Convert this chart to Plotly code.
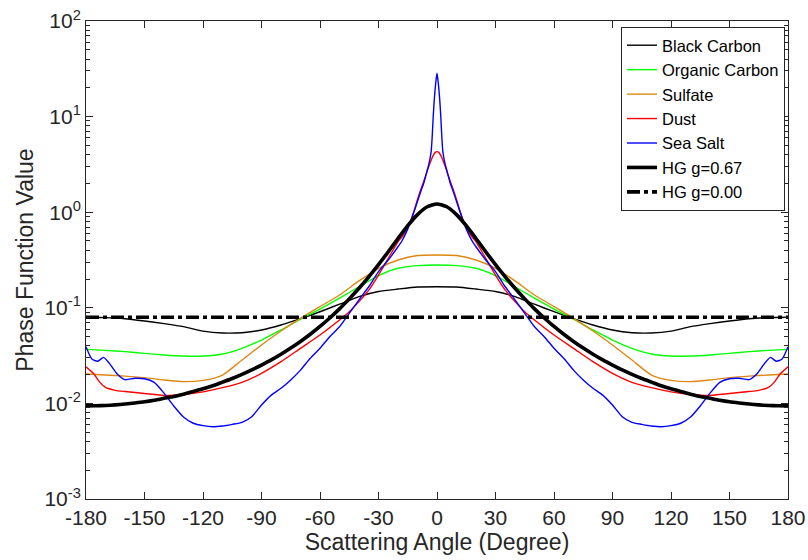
import plotly.graph_objects as go

# ---------------- data (curves symmetric about 0) -------------
bc_ang = [0, 10, 20, 30, 40, 50, 60, 70, 80, 90, 100, 110, 120, 130, 140, 150, 160, 170, 180]
bc_val = [0.166, 0.165, 0.157, 0.148, 0.131, 0.109, 0.091, 0.0769, 0.0661, 0.0586, 0.0549,
          0.0545, 0.0571, 0.0635, 0.0683, 0.0728, 0.0769, 0.0789, 0.0795]

oc_ang = [0, 10, 20, 30, 40, 50, 60, 70, 80, 90, 100, 110, 120, 130, 140, 150, 160, 170, 180]
oc_val = [0.280, 0.276, 0.259, 0.217, 0.166, 0.126, 0.097, 0.076, 0.0586, 0.046, 0.0377,
          0.0329, 0.0313, 0.0313, 0.0321, 0.0334, 0.0348, 0.0359, 0.0367]

su_ang = [0, 10, 20, 30, 40, 50, 60, 70, 80, 90, 100, 110, 120, 130, 140, 150, 160, 170, 180]
su_val = [0.357, 0.352, 0.316, 0.259, 0.191, 0.136, 0.103, 0.0776, 0.0572, 0.0408, 0.0284,
          0.0198, 0.0174, 0.0169, 0.0176, 0.0186, 0.0193, 0.0198, 0.0203]

du_ang = [0, 1, 2, 3, 4, 5, 6, 7, 8, 10, 12, 14, 16, 18, 20, 25, 30, 35, 40, 45, 50, 60, 70,
          80, 90, 100, 110, 120, 130, 140, 150, 160, 165, 170, 173, 176, 180]
du_val = [4.3, 4.2, 3.9, 3.5, 3.1, 2.7, 2.35, 2.05, 1.8, 1.36, 1.0, 0.77, 0.63, 0.55, 0.49,
          0.33, 0.22, 0.153, 0.116, 0.091, 0.0745, 0.0519, 0.0377, 0.0273, 0.0206, 0.0166,
          0.0146, 0.0132, 0.0124, 0.0121, 0.0127, 0.0133, 0.0137, 0.0147, 0.0167, 0.0204, 0.0242]

ss_ang = [0, 0.5, 1, 1.5, 2, 2.5, 3, 4, 5, 6, 7, 8, 10, 12, 14, 16, 18, 20, 25, 30, 35, 40,
          45, 50, 55, 60, 65, 70, 75, 80, 85, 90, 95, 100, 105, 110, 115, 120, 125, 130, 135,
          140, 145, 150, 155, 160, 164, 168, 171, 174, 177, 180]
ss_val = [28.4, 24, 19, 14, 9.5, 6.0, 4.3, 3.3, 2.75, 2.3, 1.95, 1.72, 1.3, 0.98, 0.75, 0.6,
          0.5, 0.435, 0.316, 0.239, 0.166, 0.121, 0.0875, 0.0634, 0.0499, 0.0377, 0.0296,
          0.0223, 0.0176, 0.0144, 0.0122, 0.0096, 0.00726, 0.00634, 0.00604, 0.0058, 0.0057,
          0.00585, 0.0062, 0.0072, 0.0094, 0.0128, 0.0166, 0.0181, 0.0183, 0.0177, 0.0203,
          0.0262, 0.0303, 0.0276, 0.0292, 0.0392]

hg67_ang = [0, 5, 10, 15, 20, 25, 30, 35, 40, 45, 50, 55, 60, 65, 70, 75, 80, 85, 90, 95,
            100, 105, 110, 115, 120, 125, 130, 135, 140, 145, 150, 155, 160, 165, 170, 175, 180]
hg67_val = [1.22, 1.14, 0.944, 0.722, 0.531, 0.386, 0.283, 0.211, 0.160, 0.124, 0.0974,
            0.0782, 0.0638, 0.0529, 0.0445, 0.0379, 0.0327, 0.0285, 0.0252, 0.0224, 0.0201,
            0.0182, 0.0167, 0.0153, 0.0142, 0.0133, 0.0125, 0.0118, 0.0113, 0.0108, 0.0104,
            0.0101, 0.00984, 0.00965, 0.00952, 0.00944, 0.00942]

hg00_ang = [-180, 180]
hg00_val = [0.0796, 0.0796]

series_names = ["Black Carbon", "Organic Carbon", "Sulfate", "Dust", "Sea Salt",
                "HG g=0.67", "HG g=0.00"]

x_tickvals = [-180, -150, -120, -90, -60, -30, 0, 30, 60, 90, 120, 150, 180]
x_ticktext = ["-180", "-150", "-120", "-90", "-60", "-30", "0", "30", "60", "90", "120",
              "150", "180"]
y_tickvals = [1e-3, 1e-2, 1e-1, 1e0, 1e1, 1e2]
y_ticktext = ["10<sup>-3</sup>", "10<sup>-2</sup>", "10<sup>-1</sup>", "10<sup>0</sup>",
              "10<sup>1</sup>", "10<sup>2</sup>"]


def mirror(ang, val):
    xs = [-a for a in reversed(ang[1:])] + list(ang)
    ys = list(reversed(val[1:])) + list(val)
    return xs, ys


FONT = "Liberation Sans, Arial, Helvetica, sans-serif"
AX = "#262626"

fig = go.Figure()
styles = [
    (bc_ang, bc_val, "#000000", 1.4),
    (oc_ang, oc_val, "#00FF00", 1.4),
    (su_ang, su_val, "#DD8811", 1.4),
    (du_ang, du_val, "#FF0000", 1.4),
    (ss_ang, ss_val, "#0000FF", 1.4),
    (hg67_ang, hg67_val, "#000000", 3.6),
]
for (a, v, c, w), name in zip(styles, series_names[:6]):
    xs, ys = mirror(a, v)
    fig.add_trace(go.Scatter(x=xs, y=ys, mode="lines", name=name,
                             line=dict(color=c, width=w, shape="spline", smoothing=0.6)))
fig.add_trace(go.Scatter(x=hg00_ang, y=hg00_val, mode="lines", name=series_names[6],
                         line=dict(color="#000000", width=3.6, dash="13px,4px,4px,4px")))

fig.update_layout(
    width=808, height=560,
    margin=dict(l=86, r=20, t=21, b=61, autoexpand=False),
    paper_bgcolor="white", plot_bgcolor="white",
    font=dict(family=FONT, color=AX, size=21),
    showlegend=True,
    legend=dict(x=0.9957, xanchor="right", y=0.9875, yanchor="top",
                bgcolor="white", bordercolor="#262626", borderwidth=1,
                font=dict(family=FONT, size=16.5, color="#000000"),
                itemwidth=30, tracegroupgap=0),
)
fig.update_xaxes(
    range=[-180, 180], tickvals=x_tickvals, ticktext=x_ticktext,
    ticks="inside", ticklen=7, tickcolor=AX, tickwidth=1,
    showline=True, linecolor=AX, linewidth=1, mirror="ticks",
    showgrid=False, zeroline=False, automargin=False,
    tickfont=dict(size=21, color=AX, family=FONT),
    title=dict(text="Scattering Angle (Degree)", font=dict(size=23, color=AX, family=FONT),
               standoff=5),
)
fig.update_yaxes(
    type="log", range=[-3, 2], tickvals=y_tickvals, ticktext=y_ticktext,
    ticks="inside", ticklen=7, tickcolor=AX, tickwidth=1,
    minor=dict(ticks="inside", ticklen=4, tickcolor=AX, dtick="D1", showgrid=False),
    showline=True, linecolor=AX, linewidth=1, mirror="ticks",
    showgrid=False, zeroline=False, automargin=False,
    tickfont=dict(size=21, color=AX, family=FONT),
    title=dict(text="Phase Function Value", font=dict(size=23, color=AX, family=FONT),
               standoff=4),
)

fig.write_html("out.html")
